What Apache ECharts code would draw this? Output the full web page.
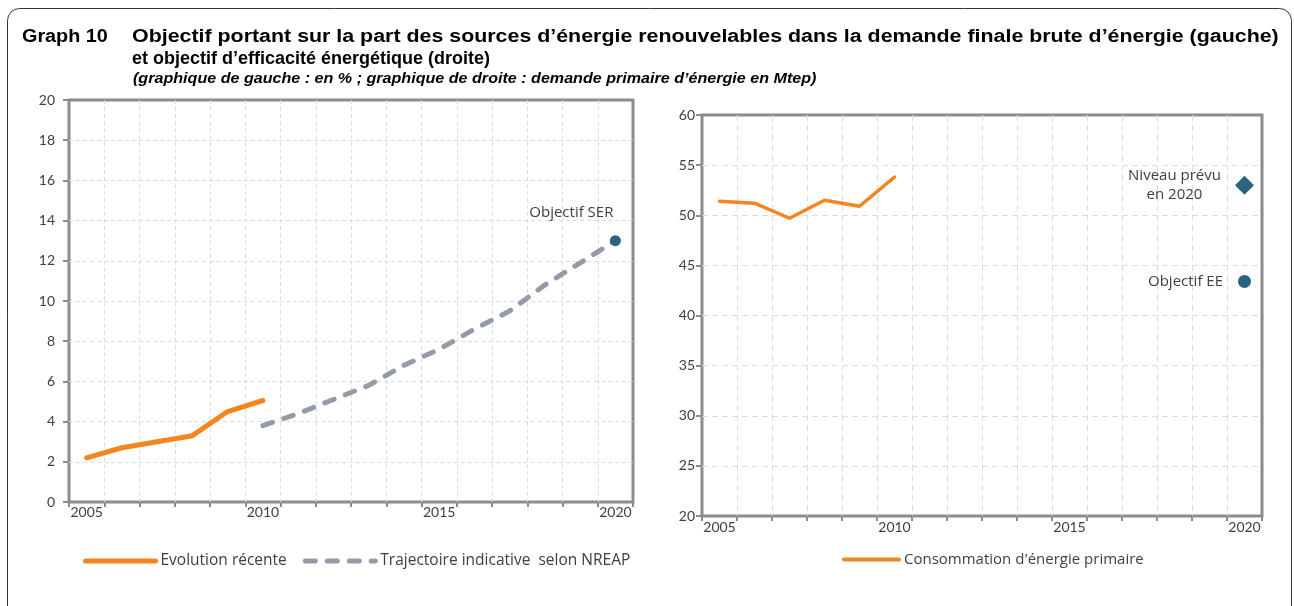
<!DOCTYPE html>
<html>
<head>
<meta charset="utf-8">
<script src="https://cdn.jsdelivr.net/npm/echarts@6/dist/echarts.min.js"></script>
<style>
  html, body { margin: 0; padding: 0; background: #fff; }
  #chart { width: 1294px; height: 606px; }
</style>
</head>
<body>
<div id="chart"></div>
<script>
// years on both x axes
var years = ['2005', '2006', '2007', '2008', '2009', '2010', '2011', '2012',
             '2013', '2014', '2015', '2016', '2017', '2018', '2019', '2020'];

// left: share of renewables (%)
var renewRecent = [2.2, 2.7, 3.0, 3.3, 4.5, 5.05];              // 2005-2010
var renewNreap = [3.8, 4.4, 5.1, 5.8, 6.8, 7.6, 8.6, 9.5, 10.8, 11.9, 13.0]; // 2010-2020
var serTarget = 13.0;                                             // 2020

// right: primary energy demand (Mtep)
var primaryCons = [51.4, 51.2, 49.7, 51.5, 50.9, 53.8];          // 2005-2010
var level2020 = 53.0;
var eeTarget = 43.4;

var titleLine1 = 'Objectif portant sur la part des sources d\u2019énergie renouvelables dans la demande finale brute d\u2019énergie (gauche)';
var titleLine2 = 'et objectif d\u2019efficacité énergétique (droite)';
var subTitle = '(graphique de gauche : en % ; graphique de droite : demande primaire d\u2019énergie en Mtep)';

var ORANGE = '#f6841f';
var GREY = '#939ba8';
var BLUE = '#2a6580';
var TXT = '#404040';
var FONT = 'Lato';
var FONT2 = 'Open Sans';

// pad a list so it starts at a given year index
function place(values, startIdx) {
    var out = [];
    for (var i = 0; i < years.length; i++) {
        var j = i - startIdx;
        out.push(j >= 0 && j < values.length ? values[j] : '-');
    }
    return out;
}

function xAxisOf(gridIdx, labelMargin, dash) {
    return {
        type: 'category',
        gridIndex: gridIdx,
        data: years,
        boundaryGap: true,
        axisLine: { show: false },
        axisTick: { show: true, interval: 0, length: 5, lineStyle: { color: '#8c8c8c', width: 2 } },
        axisLabel: { interval: 4, margin: labelMargin, color: TXT, fontFamily: FONT, fontSize: 14 },
        splitLine: { show: true, interval: 0, showMinLine: false, showMaxLine: false,
                     lineStyle: { color: '#dcdcdc', type: dash, width: 1 } }
    };
}

function yAxisOf(gridIdx, min, max, step, margin, dash) {
    return {
        type: 'value', gridIndex: gridIdx, min: min, max: max, interval: step,
        axisLine: { show: false },
        axisTick: { show: true, length: 6, lineStyle: { color: '#8c8c8c', width: 2 } },
        axisLabel: { margin: margin, color: TXT, fontFamily: FONT, fontSize: 14 },
        splitLine: { showMinLine: false, showMaxLine: false, lineStyle: { color: '#dcdcdc', type: dash } }
    };
}

var chart = echarts.init(document.getElementById('chart'), null, { renderer: 'canvas' });

var titleFont = { fontFamily: 'Liberation Sans', fontWeight: 'bold', fontSize: 18, fill: '#000', verticalAlign: 'middle' };

var option = {
    animation: false,
    backgroundColor: '#fff',
    graphic: [{
        type: 'rect',
        shape: { x: 7.5, y: 8.5, width: 1284, height: 640, r: 12 },
        style: { fill: 'none', stroke: '#333', lineWidth: 1 },
        silent: true
    }, {
        type: 'text', x: 22, y: 37, scaleX: 1.1,
        style: Object.assign({ text: 'Graph 10' }, titleFont)
    }, {
        // first line is spread to the full width in the original
        type: 'text', x: 132, y: 37, scaleX: 1.188,
        style: Object.assign({ text: titleLine1 }, titleFont)
    }, {
        type: 'text', x: 132, y: 59,
        style: Object.assign({ text: titleLine2 }, titleFont)
    }, {
        type: 'text', x: 133, y: 79, scaleX: 1.15,
        style: { text: subTitle, fontFamily: 'Liberation Sans', fontWeight: 'bold', fontStyle: 'italic',
                 fontSize: 14, fill: '#000', verticalAlign: 'middle' }
    }],
    legend: [{
        left: 78, top: 548,
        itemWidth: 70, itemHeight: 14, itemGap: 16,
        textStyle: { color: TXT, fontFamily: FONT2, fontSize: 15.5 },
        data: [{
            name: 'Evolution récente',
            itemStyle: { opacity: 0 },
            lineStyle: { width: 5, cap: 'round' }
        }, {
            name: 'Trajectoire indicative  selon NREAP',
            itemStyle: { opacity: 0 },
            lineStyle: { width: 5, cap: 'round' }
        }]
    }, {
        left: 837, top: 547,
        itemWidth: 55, itemHeight: 14,
        textStyle: { color: TXT, fontFamily: FONT2, fontSize: 15 },
        data: [{
            name: 'Consommation d\'énergie primaire',
            itemStyle: { opacity: 0 },
            lineStyle: { width: 4, cap: 'round' }
        }]
    }],
    grid: [
        { left: 69, top: 100, width: 564, height: 402, show: true, borderColor: '#8c8c8c', borderWidth: 3 },
        { left: 702, top: 115, width: 560, height: 401, show: true, borderColor: '#8c8c8c', borderWidth: 3 }
    ],
    xAxis: [xAxisOf(0, 3, [4, 3]), xAxisOf(1, 4, [6, 4])],
    yAxis: [yAxisOf(0, 0, 20, 2, 14, [4, 3]), yAxisOf(1, 20, 60, 5, 7, [6, 4])],
    series: [{
        name: 'Evolution récente',
        type: 'line', xAxisIndex: 0, yAxisIndex: 0,
        data: place(renewRecent, 0),
        symbol: 'none',
        color: ORANGE,
        lineStyle: { color: ORANGE, width: 5, cap: 'round', join: 'round' }
    }, {
        name: 'Trajectoire indicative  selon NREAP',
        type: 'line', xAxisIndex: 0, yAxisIndex: 0,
        data: place(renewNreap, 5),
        symbol: 'none',
        color: GREY,
        lineStyle: { color: GREY, width: 5, type: [10, 12], cap: 'round', join: 'round' }
    }, {
        name: 'Objectif SER',
        type: 'scatter', xAxisIndex: 0, yAxisIndex: 0,
        data: place([serTarget], 15),
        symbol: 'circle', symbolSize: 11,
        itemStyle: { color: BLUE, opacity: 1 },
        label: {
            show: true, formatter: 'Objectif SER', position: 'inside', offset: [-44, -28],
            align: 'center', color: TXT, fontFamily: FONT2, fontSize: 15
        },
        z: 5
    }, {
        name: 'Consommation d\'énergie primaire',
        type: 'line', xAxisIndex: 1, yAxisIndex: 1,
        data: place(primaryCons, 0),
        symbol: 'none',
        color: ORANGE,
        lineStyle: { color: ORANGE, width: 3.5, cap: 'round', join: 'round' }
    }, {
        name: 'Niveau prévu',
        type: 'scatter', xAxisIndex: 1, yAxisIndex: 1,
        data: place([level2020], 15),
        symbol: 'diamond', symbolSize: [19, 19],
        itemStyle: { color: BLUE, opacity: 1 },
        label: {
            show: true, formatter: 'Niveau prévu\nen 2020', position: 'inside', offset: [-70, 0],
            align: 'center', color: TXT, fontFamily: FONT2, fontSize: 15, lineHeight: 19
        }
    }, {
        name: 'Objectif EE',
        type: 'scatter', xAxisIndex: 1, yAxisIndex: 1,
        data: place([eeTarget], 15),
        symbol: 'circle', symbolSize: 13,
        itemStyle: { color: BLUE, opacity: 1 },
        label: {
            show: true, formatter: 'Objectif EE', position: 'left', distance: 15,
            color: TXT, fontFamily: FONT2, fontSize: 15
        }
    }]
};

chart.setOption(option);
</script>
</body>
</html>
